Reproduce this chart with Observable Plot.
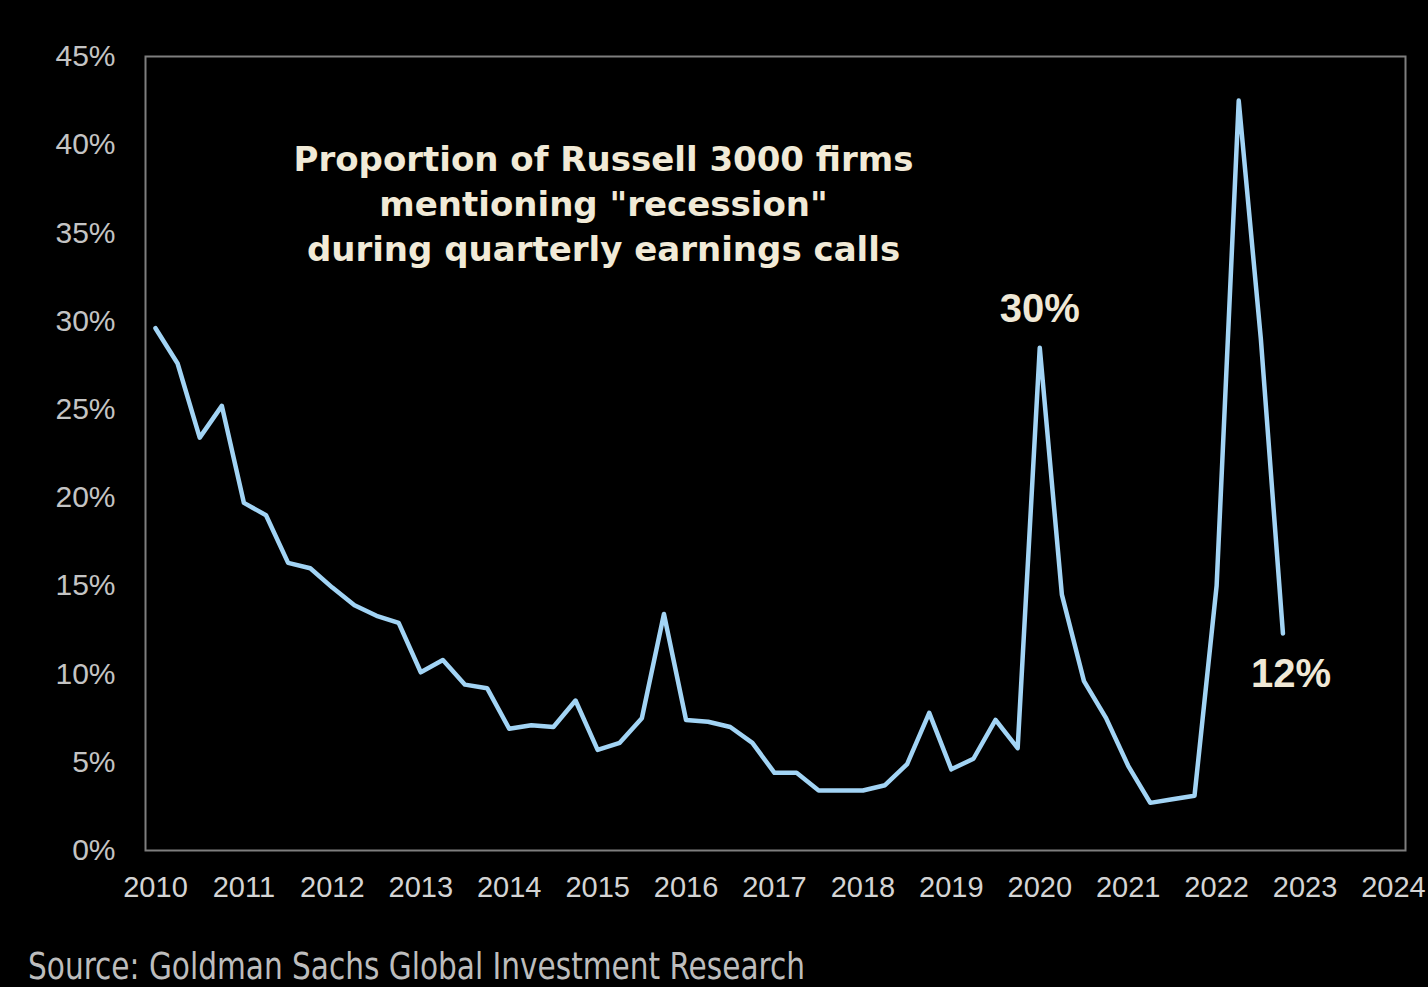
<!DOCTYPE html>
<html>
<head>
<meta charset="utf-8">
<script src="https://cdn.jsdelivr.net/npm/d3@7"></script>
<script src="https://cdn.jsdelivr.net/npm/@observablehq/plot@0.6"></script>
<style>
  html, body { margin: 0; padding: 0; background: #000; overflow: hidden; }
  #wrap { position: relative; width: 1428px; height: 987px; background: #000; }
  #source { position: absolute; left: 28px; top: 944px; white-space: nowrap;
            font-family: "Liberation Sans Narrow", "DejaVu Sans Condensed", "Liberation Sans", sans-serif;
            font-size: 38px; color: #bdbdbd; transform-origin: 0 0; }
</style>
</head>
<body>
<div id="wrap"></div>
<script>
// ---- Data ----
const years = [2010, 2011, 2012, 2013, 2014, 2015, 2016, 2017, 2018, 2019, 2020, 2021, 2022];
// share of Russell 3000 firms mentioning "recession", % per quarter (Q1..Q4)
const shareQ1 = [29.6, 19.7, 14.9, 10.1, 6.9, 5.7, 7.4, 4.4, 3.4, 4.6, 28.5, 4.8, 15.0];
const shareQ2 = [27.6, 19.0, 13.9, 10.8, 7.1, 6.1, 7.3, 4.4, 3.7, 5.2, 14.5, 2.7, 42.5];
const shareQ3 = [23.4, 16.3, 13.3,  9.4, 7.0, 7.5, 7.0, 3.4, 4.9, 7.4,  9.6, 2.9, 29.0];
const shareQ4 = [25.2, 16.0, 12.9,  9.2, 8.5, 13.4, 6.1, 3.4, 7.8, 5.8,  7.5, 3.1, 12.3];
const xTicks = [2010, 2011, 2012, 2013, 2014, 2015, 2016, 2017, 2018, 2019, 2020, 2021, 2022, 2023, 2024];
const yTicks = [0, 5, 10, 15, 20, 25, 30, 35, 40, 45];
const titleText = "Proportion of Russell 3000 firms\nmentioning \"recession\"\nduring quarterly earnings calls";
const sourceText = "Source: Goldman Sachs Global Investment Research";
const callouts = [
  {year: 2020, quarter: 1, label: "30%"},
  {year: 2022, quarter: 4, label: "12%"}
];

// ---- Build table ----
const quarterly = [shareQ1, shareQ2, shareQ3, shareQ4];
const data = [];
years.forEach((yr, i) => {
  quarterly.forEach((arr, q) => {
    data.push({t: yr + q * 0.25, v: arr[i], year: yr, quarter: q + 1});
  });
});
const peakPt = data.find(d => d.year === callouts[0].year && d.quarter === callouts[0].quarter);
const lastPt = data.find(d => d.year === callouts[1].year && d.quarter === callouts[1].quarter);

const chart = Plot.plot({
  width: 1428,
  height: 987,
  marginLeft: 145,
  marginRight: 23,
  marginTop: 56,
  marginBottom: 137,
  style: {background: "#000", color: "#cfcfcf", fontFamily: "'Liberation Sans', Arial, sans-serif", fontSize: "29px"},
  x: {domain: [2009.887, 2024.136], ticks: xTicks, tickFormat: d => String(d), label: null},
  y: {domain: [0, 45], ticks: yTicks, tickFormat: d => d + "%", label: null},
  marks: [
    Plot.axisY({ticks: yTicks, tickFormat: d => d + "%", tickSize: 0, tickPadding: 30, label: null, fontSize: 30, fill: "#c4c4c4"}),
    Plot.axisX({ticks: xTicks, tickFormat: d => String(d), tickSize: 0, tickPadding: 26, label: null, fontSize: 29, fill: "#d4d4d4"}),
    Plot.frame({stroke: "#7e7e7e", strokeWidth: 2}),
    Plot.line(data, {x: "t", y: "v", stroke: "#a2d4f5", strokeWidth: 4.5, strokeLinejoin: "round", strokeLinecap: "round"}),
    Plot.text([titleText], {frameAnchor: "top", dx: -172, dy: 145, lineAnchor: "middle", lineHeight: 1.32,
      text: d => d, fontSize: 34, fontWeight: "bold", fill: "#f1ead7", textAnchor: "middle",
      fontFamily: "'DejaVu Sans', 'Liberation Sans', sans-serif"}),
    Plot.text([peakPt], {x: "t", y: "v", text: () => callouts[0].label, dy: -38, fontSize: 40, fontWeight: "bold", fill: "#efe8d6"}),
    Plot.text([lastPt], {x: "t", y: "v", text: () => callouts[1].label, dx: 8, dy: 41, fontSize: 40, fontWeight: "bold", fill: "#efe8d6"})
  ]
});

const wrap = document.getElementById("wrap");
wrap.appendChild(chart);
chart.style.position = "absolute";
chart.style.left = "0";
chart.style.top = "0";

const src = document.createElement("div");
src.id = "source";
src.textContent = sourceText;
wrap.appendChild(src);
const w = src.getBoundingClientRect().width;
if (w > 0) src.style.transform = `scaleX(${777 / w})`;
</script>
</body>
</html>
